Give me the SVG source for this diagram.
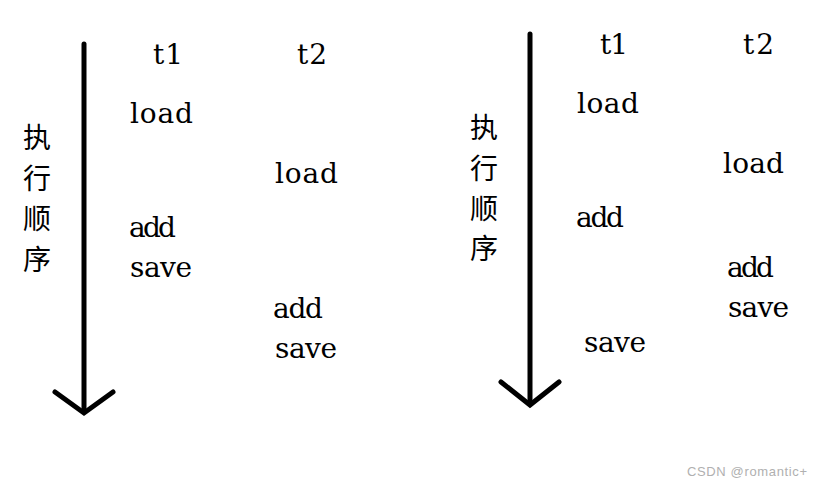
<svg xmlns="http://www.w3.org/2000/svg" width="822" height="487" viewBox="0 0 822 487">
<style>
.t{font-family:"DejaVu Serif",serif;font-size:28px;fill:#000}
.c{font-family:"Noto Sans CJK SC",sans-serif;font-size:28px;fill:#000}
.a{stroke:#000;stroke-width:5;fill:none;stroke-linecap:round;stroke-linejoin:miter}
.w{font-family:"Liberation Sans",sans-serif;font-size:13px;fill:#b0b0b0}
</style>
<rect width="822" height="487" fill="#fff"/>
<g id="connectors">
<line class="a" x1="84" y1="44" x2="84" y2="411" stroke-linecap="butt"/>
<polyline class="a" points="55,392 84,413 113,392"/>
<line class="a" x1="530" y1="34" x2="530" y2="403" stroke-linecap="butt"/>
<polyline class="a" points="501,382 530,405 559,382"/>
</g>
<g id="left-axis-label">
<text class="c" x="23" y="148">执</text>
<text class="c" x="23" y="189">行</text>
<text class="c" x="23" y="229">顺</text>
<text class="c" x="23" y="270">序</text>
</g>
<g id="left-t1">
<text class="t" x="153" y="64" textLength="30">t1</text>
<text class="t" x="130" y="123" textLength="63">load</text>
<text class="t" x="129" y="237" textLength="47">add</text>
<text class="t" x="130" y="277" textLength="62">save</text>
</g>
<g id="left-t2">
<text class="t" x="297" y="64" textLength="30">t2</text>
<text class="t" x="275" y="183" textLength="63">load</text>
<text class="t" x="273" y="318" textLength="50">add</text>
<text class="t" x="275" y="358" textLength="62">save</text>
</g>
<g id="right-axis-label">
<text class="c" x="470" y="138">执</text>
<text class="c" x="470" y="179">行</text>
<text class="c" x="470" y="219">顺</text>
<text class="c" x="470" y="259">序</text>
</g>
<g id="right-t1">
<text class="t" x="600" y="54" textLength="28">t1</text>
<text class="t" x="577" y="113" textLength="62">load</text>
<text class="t" x="576" y="227" textLength="48">add</text>
<text class="t" x="584" y="352" textLength="62">save</text>
</g>
<g id="right-t2">
<text class="t" x="743" y="54" textLength="31">t2</text>
<text class="t" x="723" y="173" textLength="61">load</text>
<text class="t" x="727" y="277" textLength="47">add</text>
<text class="t" x="728" y="317" textLength="61">save</text>
</g>
<text class="w" x="687" y="476" textLength="120">CSDN @romantic+</text>
</svg>
